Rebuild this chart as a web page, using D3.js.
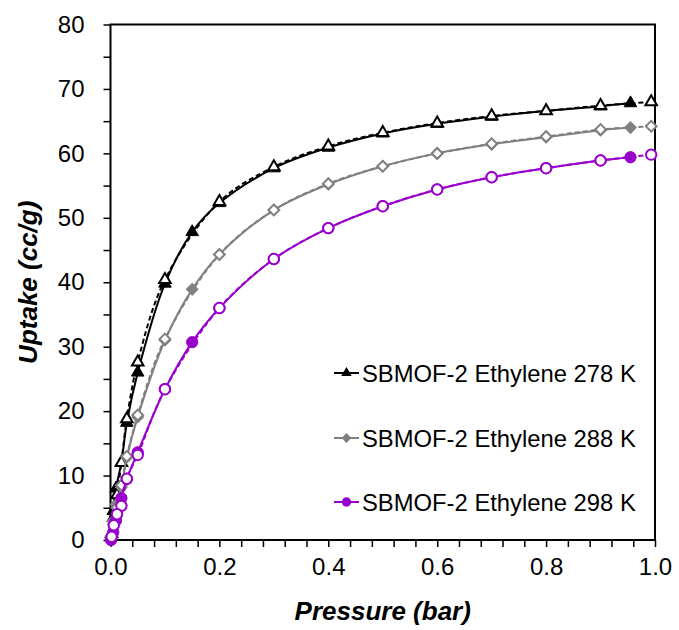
<!DOCTYPE html>
<html>
<head>
<meta charset="utf-8">
<script src="https://cdn.jsdelivr.net/npm/d3@7"></script>
<style>
  body { margin: 0; background: #fff; }
  svg text { font-family: 'Liberation Sans', Arial, sans-serif; }
</style>
</head>
<body>
<div id="chart"></div>
<script>
// データ ---------------------------------------------------------------------------
const adsPressure = [0.001, 0.005, 0.01, 0.02, 0.03, 0.05, 0.1, 0.15, 0.2, 0.3, 0.4, 0.5, 0.6, 0.7, 0.8, 0.9, 0.955];
const desPressure = [0.993, 0.9, 0.8, 0.7, 0.6, 0.5, 0.4, 0.3, 0.2, 0.1, 0.05, 0.03, 0.02, 0.012, 0.006, 0.002];

const ads278 = [0.5, 4.5, 8, 12, 18.2, 26, 39.8, 47.8, 52.3, 57.7, 60.9, 63.1, 64.6, 65.7, 66.6, 67.3, 67.8];
const des278 = [68, 67.4, 66.6, 65.8, 64.7, 63.2, 61.1, 57.9, 52.5, 40.4, 27.6, 18.8, 12, 7, 3.5, 1];
const ads288 = [0.3, 3, 5.5, 8.2, 12.8, 19.1, 31, 38.9, 44.3, 51.2, 55.2, 58, 60, 61.4, 62.5, 63.6, 64.0];
const des288 = [64.2, 63.7, 62.6, 61.5, 60, 58, 55.3, 51.2, 44.3, 31.2, 19.4, 13, 8.5, 5, 2.5, 0.5];
const ads298 = [0, 1.2, 3, 6.5, 9.5, 13.6, 23.4, 30.7, 36, 43.6, 48.4, 51.8, 54.4, 56.3, 57.7, 58.9, 59.4];
const des298 = [59.8, 58.9, 57.7, 56.3, 54.4, 51.8, 48.4, 43.6, 36, 23.4, 13.2, 9.5, 5.3, 4.0, 2.3, 0.5];

const seriesNames = ['SBMOF-2 Ethylene 278 K', 'SBMOF-2 Ethylene 288 K', 'SBMOF-2 Ethylene 298 K'];
const xTickLabels = ['0.0', '0.2', '0.4', '0.6', '0.8', '1.0'];
const yTickLabels = ['0', '10', '20', '30', '40', '50', '60', '70', '80'];

// 大きさ ---------------------------------------------------------------------------
const width = 679;
const height = 630;
const margin = {top: 24.5, right: 24, bottom: 90, left: 110.5};

const svg = d3.select('#chart').append('svg')
  .attr('width', width)
  .attr('height', height);

const x = d3.scaleLinear().domain([0, 1]).range([margin.left, width - margin.right]);
const y = d3.scaleLinear().domain([0, 80]).range([height - margin.bottom, margin.top]);

// rot: マーカーの回転（ひし形は正方形を45度回す）
const series = [
  {name: seriesNames[0], color: '#000000', shape: d3.symbolTriangle, size: 68, rot: 0, ads: ads278, des: des278},
  {name: seriesNames[1], color: '#808080', shape: d3.symbolSquare, size: 68, rot: 45, ads: ads288, des: des288},
  {name: seriesNames[2], color: '#9900cc', shape: d3.symbolCircle, size: 100, rot: 0, ads: ads298, des: des298}
];

// 軸 ------------------------------------------------------------------------------
const xAxis = d3.axisBottom(x)
  .tickValues(d3.range(0, 1.0001, 0.04))
  .tickSize(7)
  .tickFormat(d => {
    const i = Math.round(d / 0.2);
    return Math.abs(d - i * 0.2) < 1e-6 ? xTickLabels[i] : '';
  });
const gx = svg.append('g')
  .attr('transform', 'translate(0,' + y(0) + ')')
  .call(xAxis);
gx.select('.domain').remove();
gx.selectAll('line').attr('stroke', '#000').attr('stroke-width', 1.5);
gx.selectAll('text').attr('font-size', '24px').attr('fill', '#000').attr('dy', '1.05em');

const yAxis = d3.axisLeft(y)
  .tickValues(d3.range(0, 81, 5))
  .tickSize(7)
  .tickFormat(d => d % 10 === 0 ? yTickLabels[d / 10] : '');
const gy = svg.append('g')
  .attr('transform', 'translate(' + x(0) + ',0)')
  .call(yAxis);
gy.select('.domain').remove();
gy.selectAll('line').attr('stroke', '#000').attr('stroke-width', 1.5);
gy.selectAll('text').attr('font-size', '24px').attr('fill', '#000').attr('x', -26);

// 枠 ------------------------------------------------------------------------------
svg.append('rect')
  .attr('x', x(0))
  .attr('y', y(80))
  .attr('width', x(1) - x(0))
  .attr('height', y(0) - y(80))
  .attr('fill', 'none')
  .attr('stroke', '#000')
  .attr('stroke-width', 2);

// 軸タイトル ---------------------------------------------------------------------
svg.append('text')
  .attr('x', (x(0) + x(1)) / 2)
  .attr('y', 620)
  .attr('text-anchor', 'middle')
  .attr('font-size', '26px')
  .attr('font-weight', 'bold')
  .attr('font-style', 'italic')
  .text('Pressure (bar)');

svg.append('text')
  .attr('transform', 'translate(37,' + ((y(0) + y(80)) / 2) + ') rotate(-90)')
  .attr('text-anchor', 'middle')
  .attr('font-size', '26px')
  .attr('font-weight', 'bold')
  .attr('font-style', 'italic')
  .text('Uptake (cc/g)');

// 線と点 --------------------------------------------------------------------------
const line = d3.line()
  .x(d => x(d[0]))
  .y(d => y(d[1]))
  .curve(d3.curveCatmullRom.alpha(0.5));

const plot = svg.append('g');
series.forEach(s => {
  const ads = adsPressure.map((p, i) => [p, s.ads[i]]);
  const des = desPressure.map((p, i) => [p, s.des[i]]);
  const g = plot.append('g');
  g.append('path')
    .attr('d', line(ads))
    .attr('fill', 'none')
    .attr('stroke', s.color)
    .attr('stroke-width', 2);
  g.append('path')
    .attr('d', line(des))
    .attr('fill', 'none')
    .attr('stroke', s.color)
    .attr('stroke-width', 2)
    .attr('stroke-dasharray', '5,3');
  g.selectAll('.ads')
    .data(ads)
    .enter()
    .append('path')
    .attr('class', 'ads')
    .attr('transform', d => 'translate(' + x(d[0]) + ',' + y(d[1]) + ') rotate(' + s.rot + ')')
    .attr('d', d3.symbol().type(s.shape).size(s.size))
    .attr('fill', s.color)
    .attr('stroke', s.color)
    .attr('stroke-width', 1);
  g.selectAll('.des')
    .data(des)
    .enter()
    .append('path')
    .attr('class', 'des')
    .attr('transform', d => 'translate(' + x(d[0]) + ',' + y(d[1]) + ') rotate(' + s.rot + ')')
    .attr('d', d3.symbol().type(s.shape).size(s.size * 0.85))
    .attr('fill', '#fff')
    .attr('stroke', s.color)
    .attr('stroke-width', 2);
});

// 凡例 ------------------------------------------------------------------------------
const legendY = [373, 438, 502];
const legend = svg.append('g');
series.forEach((s, i) => {
  const g = legend.append('g').attr('transform', 'translate(334,' + legendY[i] + ')');
  g.append('line')
    .attr('x1', 0).attr('x2', 25)
    .attr('stroke', s.color)
    .attr('stroke-width', 2);
  g.append('path')
    .attr('transform', 'translate(12.5,0) rotate(' + s.rot + ')')
    .attr('d', d3.symbol().type(s.shape).size(s.size * 0.7))
    .attr('fill', s.color);
  g.append('text')
    .attr('x', 28)
    .attr('dy', '0.36em')
    .attr('font-size', '23.8px')
    .attr('fill', '#000')
    .text(s.name);
});
</script>
</body>
</html>
